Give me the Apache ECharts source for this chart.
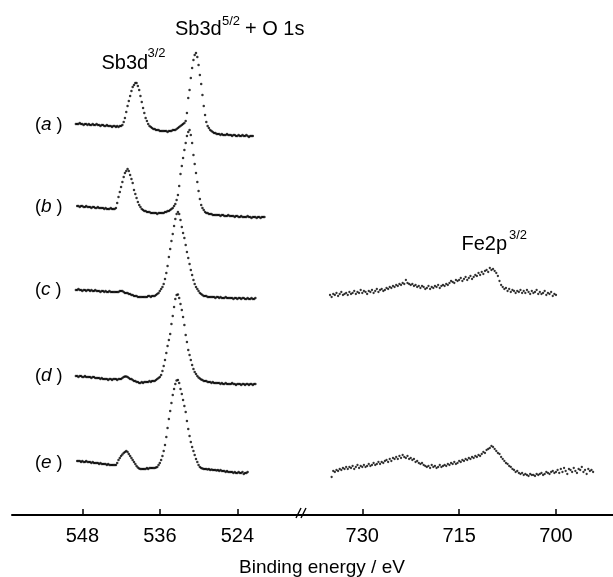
<!DOCTYPE html>
<html><head><meta charset="utf-8">
<script src="https://cdn.jsdelivr.net/npm/echarts@6/dist/echarts.min.js"></script>
<style>html,body{margin:0;padding:0;background:#fff}#c{width:613px;height:577px}</style>
</head><body><div id="c"></div><script>
// ---- data (intensities above each spectrum's own right-hand baseline, arbitrary units) ----
const sbLabels = ['a', 'b', 'c', 'd', 'e'];
const sbStart = [549.0, 548.8, 549.0, 549.0, 548.8];   // binding energy of first point (eV)
const sbStep = 0.2;                                   // eV between points
const sbOffset = [379, 298, 217, 131, 43];             // vertical stacking offsets

const sbA = [12,12,12,13,12,12,11,12,12,11,12,11,11,12,11,11,12,11,11,10,11,11,10,10,11,10,10,10,9,10,
10,9,10,9,10,10,11,14,18,24,30,35,40,45,49,51,53,53,50,46,40,34,28,23,18,15,12,10,9,8,
7,7,6,6,6,5,5,5,5,5,5,4,5,5,5,6,6,6,7,8,9,10,11,12,13,15,23,38,46,58,
68,76,81,83,79,71,61,52,41,30,21,14,10,8,6,5,4,3,3,2,2,2,1,2,1,1,1,2,1,1,
1,0,1,1,0,0,1,0,0,1,0,0,1,0,-1,0,0,0];
const sbB = [11,11,10,11,11,10,10,11,10,10,10,9,10,10,9,9,10,9,9,9,9,8,9,8,8,8,9,8,8,8,
9,14,20,25,30,35,40,44,46,48,46,42,38,34,27,23,19,15,12,10,8,7,6,6,5,5,5,4,4,4,
4,4,3,4,4,4,4,4,5,5,6,6,7,8,9,11,13,17,22,31,43,51,59,67,74,81,85,87,82,74,
62,53,44,35,26,18,12,9,7,5,4,4,3,3,3,2,2,2,2,2,2,1,2,2,1,1,1,2,1,1,
1,1,0,1,1,0,0,1,0,0,0,0,1,0,0,-1,0,0,0,-1,0,0,-1,0,0,0];
const sbC = [8,8,9,8,8,7,8,8,7,8,8,7,8,7,7,8,7,7,7,6,7,7,6,7,6,6,7,6,6,6,
6,6,6,6,7,7,7,6,5,5,5,4,4,3,3,2,2,2,1,1,1,1,1,1,1,1,2,2,1,2,
2,2,3,4,5,7,9,11,14,19,25,32,41,49,57,64,72,79,84,86,84,78,71,65,60,53,46,40,34,28,
23,18,14,11,9,7,5,4,3,2,2,2,1,1,1,1,1,1,0,1,1,0,1,0,0,0,1,0,0,0,
0,0,-1,0,0,-1,0,0,-1,0,0,-1,-1,0,-1,-1,0,-1,-1,0];
const sbD = [8,8,7,8,8,7,7,8,7,7,7,7,6,7,7,6,6,6,6,5,6,5,5,5,5,4,5,5,4,5,
5,5,4,5,5,5,6,7,7.5,7.5,7,6,5,5,4,3,3,2,2,1,1,2,1,2,2,2,2,3,2,3,
3,3,4,5,6,7,9,13,18,24,31,38,44,50,60,68,77,85,89,89.5,86,80,74,67,59,49,42,34,29,24,
19,15,12,10,8,6.5,5.5,4.5,4,3,3,3,2,2,2,1,2,1,1,1,1,1,0,1,0,0,1,0,0,0,
0,1,0,0,-1,0,0,0,-1,0,0,-1,0,0,-1,0,0,-1,0,0];
const sbE = [11,11,11,10,11,10,10,11,10,10,10,9,10,9,9,9,9,8,9,8,8,8,8,7,8,7,7,7,7,7,
7,9,12,14,16,17.5,19,20,21,20,18,16,14,12,10,8,6,4.5,3.5,3,3,3,3,3,4,3,4,4,4,4,
4,4.5,5,7,9,12,16,21,27,35,44,53,61,69,77,83,88,91.5,92,89,83,78,72,66,60,51,43,36,30,25,
21,17,13,10,7,5,4,3.5,3,3,3,2.5,3,2,2.5,2,2,2,1.5,2,1,2,1,1,1,0,1,0,0,0,
0,-1,0,-1,-1,0,-1,-1,0,-2,-1,-1,0];
const sbValues = [sbA, sbB, sbC, sbD, sbE];

const feLabels = ['c', 'e'];
const feStart = [735.0, 734.75];
const feStep = 0.25;
const feOffset = [220, 43];
const feC = [0,-2,1,0,2,-1,1,3,0,1,2,0,3,1,2,4,1,3,2,5,2,4,3,1,4,3,5,2,4,6,
3,5,6,4,5,7,6,8,7,9,8,10,9,11,10,12,11,15,12,11,10,11,9,10,8,9,7,9,8,6,
7,9,6,8,7,9,8,10,7,9,10,9,11,10,12,14,13,12,15,14,15,17,14,16,18,15,17,19,16,18,
20,19,22,20,23,21,24,25,23,27,25,26,24,22,19,14,10,8,6,7,4,6,3,5,4,2,4,3,5,2,
4,2,5,3,1,4,2,3,5,1,3,1,2,4,0,2,1,3,-1,1,0];
const feE = [-5,1,0,2,1,3,2,4,3,5,3,5,4,6,3,5,7,4,6,5,7,5,6,8,6,7,9,7,8,10,
8,10,9,11,12,10,13,11,14,13,15,13,16,14,17,15,14,16,13,14,12,13,10,11,9,8,9,7,6,5,
6,4,7,5,6,4,5,7,5,6,7,6,8,7,9,8,10,8,9,11,10,12,11,13,12,14,13,15,14,16,
15,17,16,18,20,19,22,23,24,26,25,23,21,19,18,15,13,11,9,8,6,5,3,2,0,1,-1,-2,-1,-3,
-2,-3,-4,-2,-3,-3,-4,-2,-3,-2,-1,-3,-2,0,-1,-2,0,1,-1,0,2,-1,3,0,4,1,-2,3,2,0,
4,1,-1,3,2,5,0,2,-2,3,1,2,0];
const feValues = [feC, feE];

const sbTicks = [548, 536, 524];
const feTicks = [730, 715, 700];
const xTitle = 'Binding energy / eV';

// ---- chart ----
const FONT = '"Liberation Sans", Arial, Helvetica, sans-serif';
function toPoints(vals, start, step, off) {
  return vals.map((v, i) => [+(start - i * step).toFixed(3), off + v]);
}
const series = [];
sbValues.forEach((vals, k) => series.push({
  name: 'Sb ' + sbLabels[k], type: 'scatter', xAxisIndex: 0, yAxisIndex: 0,
  symbol: 'circle', symbolSize: 2.5, itemStyle: { color: '#000' }, silent: true,
  data: toPoints(vals, sbStart[k], sbStep, sbOffset[k])
}));
feValues.forEach((vals, k) => series.push({
  name: 'Fe ' + feLabels[k], type: 'scatter', xAxisIndex: 1, yAxisIndex: 1,
  symbol: 'circle', symbolSize: 2.3, itemStyle: { color: '#000' }, silent: true,
  data: toPoints(vals, feStart[k], feStep, feOffset[k])
}));

function xAxisDef(grid, min, max, ticks) {
  return {
    type: 'value', gridIndex: grid, min: min, max: max, inverse: true,
    axisLine: { show: true, lineStyle: { color: '#000', width: 2 } },
    axisTick: { show: true, inside: true, length: 6, customValues: ticks, lineStyle: { color: '#000', width: 1.5 } },
    axisLabel: { show: true, customValues: ticks, fontSize: 20, color: '#000', margin: 11, fontFamily: FONT },
    splitLine: { show: false }
  };
}

const textEls = [];
function txt(x, y, s, size, extra) {
  textEls.push(Object.assign({ type: 'text', x: x, y: y, silent: true,
    style: Object.assign({ text: s, fontSize: size, fontFamily: FONT, fill: '#000',
      align: 'left', verticalAlign: 'middle' }, extra || {}) }));
}
const labelY = [125, 207, 290, 376, 463];
sbLabels.forEach((l, k) => txt(35, labelY[k], '(' + '{i|' + l + '} )', 18,
  { rich: { i: { fontStyle: 'italic', fontSize: 19, fontFamily: FONT, fill: '#000' } } }));
txt(101.5, 63, 'Sb3d', 20); txt(147.5, 53, '3/2', 13);
txt(175, 29.5, 'Sb3d', 20); txt(222, 21.5, '5/2', 13); txt(245, 29.5, '+ O 1s', 20);
txt(461.5, 244.5, 'Fe2p', 20); txt(509, 235, '3/2', 13);
txt(322, 568, xTitle, 19, { align: 'center' });

const option = {
  animation: false,
  backgroundColor: '#fff',
  grid: [
    { left: 12, top: 0, width: 291, height: 515 },
    { left: 302, top: 0, width: 311, height: 515 }
  ],
  xAxis: [xAxisDef(0, 513.83, 558.89, sbTicks), xAxisDef(1, 691.17, 739.34, feTicks)],
  yAxis: [
    { type: 'value', gridIndex: 0, min: 0, max: 515, show: false },
    { type: 'value', gridIndex: 1, min: 0, max: 515, show: false }
  ],
  series: series,
  graphic: textEls.concat([
    { type: 'line', silent: true, shape: { x1: 296, y1: 518, x2: 301, y2: 508 }, style: { stroke: '#000', lineWidth: 1.4 } },
    { type: 'line', silent: true, shape: { x1: 301, y1: 518, x2: 306, y2: 508 }, style: { stroke: '#000', lineWidth: 1.4 } }
  ])
};
const chart = echarts.init(document.getElementById('c'), null, { renderer: 'canvas' });
chart.setOption(option);
</script></body></html>
